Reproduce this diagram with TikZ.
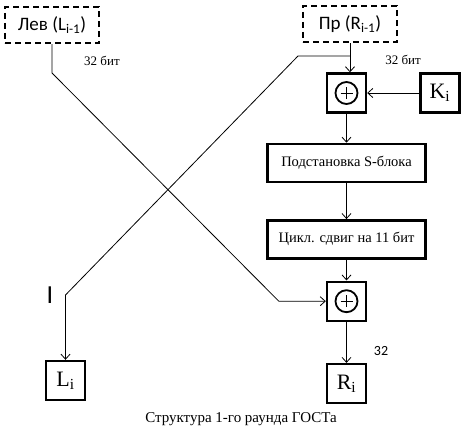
\documentclass[tikz,border=0pt]{standalone}
\usepackage{fontspec}
\setmainfont{Liberation Serif}
\newfontfamily\calibri{Carlito}
\usetikzlibrary{arrows.meta, positioning}

\begin{document}
\begin{tikzpicture}[
            x = 1pt, y = -1pt, % one unit per pixel
            > = {Straight Barb[length=5pt, width=9pt]}, % arrow head style
            line width = 0.8pt % line style
        ]

        \tikzstyle{regbox}=[
            draw = black,
            line width = 2.4pt,
            dash pattern = on 6pt off 4pt,
            minimum width = 94pt,
            minimum height = 36pt,
            inner sep = 0pt,
            font = \calibri\fontsize{19}{21}\selectfont
        ]
        \tikzstyle{opbox}=[
            draw = black,
            line width = 2.4pt,
            minimum width = 158pt,
            minimum height = 38pt,
            font = \fontsize{14.5}{17}\selectfont
        ]
        \tikzstyle{smallbox}=[
            draw = black,
            line width = 2.4pt,
            minimum size = 39pt,
            inner sep = 0pt,
            font = \fontsize{22}{24}\selectfont
        ]
        \tikzstyle{xorbox}=[
            smallbox,
            path picture = {
                \draw[line width=1.8pt] (path picture bounding box.center) circle (11pt);
                \draw[line width=1pt]
                    ([xshift=-6pt]path picture bounding box.center) -- ([xshift=6pt]path picture bounding box.center)
                    ([yshift=-6pt]path picture bounding box.center) -- ([yshift=6pt]path picture bounding box.center);
            }
        ]

        \useasboundingbox (0,0) rectangle (464,431);

        \node[regbox] (lev) at (52,25) {Лев (L\textsubscript{i-1})};
        \node[regbox] (pr) at (350,24) {Пр (R\textsubscript{i-1})};
        \node[xorbox] (xor1) at (346.5,93) {};
        \node[smallbox] (key) [right=52pt of xor1] {K\textsubscript{i}};
        \node[opbox] (subst) [below=29pt of xor1] {Подстановка S-блока};
        \node[opbox] (cycle) [below=36pt of subst] {Цикл. сдвиг на 11 бит};
        \node[xorbox] (xor2) [below=21pt of cycle] {};
        \node[smallbox] (ri) [below=41pt of xor2] {R\textsubscript{i}};
        \node[smallbox] (li) at (65.5,380.5) {L\textsubscript{i}};

        \node[font=\fontsize{13}{15}\selectfont] (lbits) at (102,61) {32 бит};
        \node[font=\fontsize{13}{15}\selectfont] (rbits) at (403,60) {32 бит};
        \node[font=\calibri\fontsize{14}{16}\selectfont] (rout) at (381,351) {32};
        \node[font=\calibri\fontsize{26}{28}\selectfont] (cursor) at (50,295) {I};
        \node[font=\fontsize{15}{18}\selectfont] (caption) at (241,419) {Структура 1-го раунда ГОСТа};

        \coordinate (rsplit) at (pr.south |- 0,56);
        \coordinate (rbend) at ([xshift=-52pt]rsplit);
        \coordinate (lbend) at (li.north |- 0,295);
        \coordinate (ldrop) at (lev.south |- 0,73);
        \coordinate (lturn) at ([xshift=-47pt]xor2.west);

        \path[->] (pr.south) edge (pr.south |- xor1.north);
        \path[->] (key.west) edge (xor1.east);
        \path[->] (xor1) edge (subst);
        \path[->] (subst) edge (cycle);
        \path[->] (cycle) edge (xor2);
        \path[->] (xor2) edge (ri);
        \draw[->] (rsplit) -- (rbend) -- (lbend) -- (li.north);
        \draw[->] (lev.south) -- (ldrop) -- (lturn) -- (xor2.west);

  \end{tikzpicture}
\end{document}
